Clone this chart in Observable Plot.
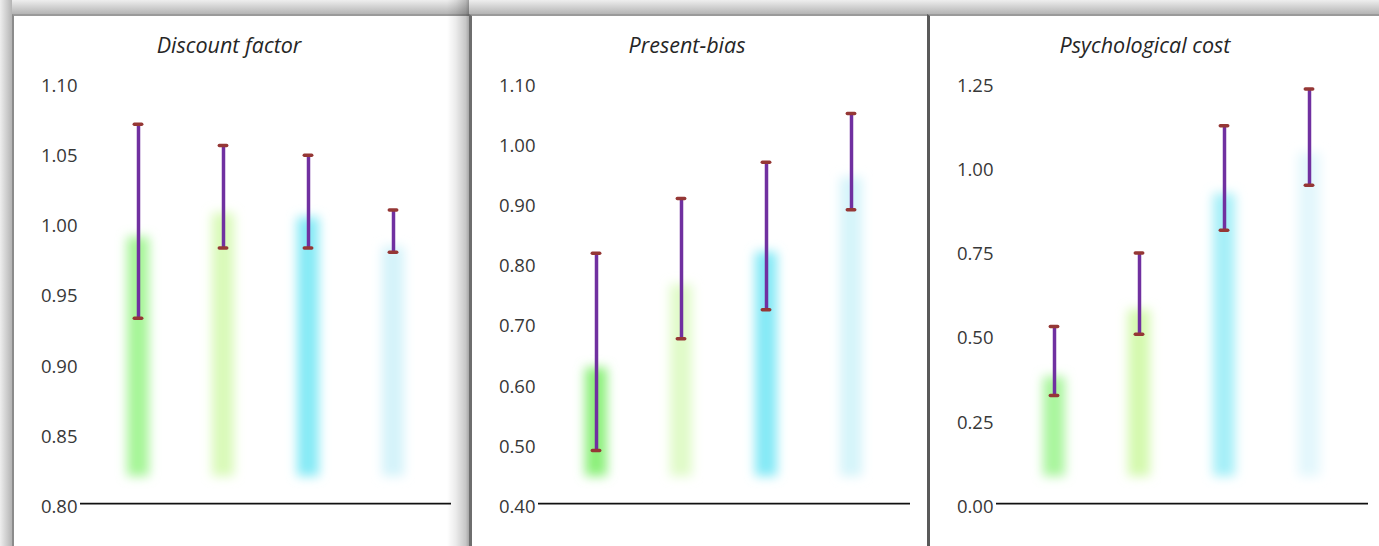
<!DOCTYPE html>
<html>
<head>
<meta charset="utf-8">
<script src="https://cdn.jsdelivr.net/npm/d3@7"></script>
<script src="https://cdn.jsdelivr.net/npm/@observablehq/plot@0.6"></script>
<style>
  html, body { margin: 0; padding: 0; background: #ffffff; }
  #page { position: relative; width: 1379px; height: 546px; overflow: hidden; background: #ffffff; }
  .strip { position: absolute; }
  .panel { position: absolute; top: 14px; height: 532px; background: #ffffff; box-sizing: border-box; border-top: 2px solid #9a9a9a; }
  .title { position: absolute; left: 0; top: 16px; line-height: 26px; width: 430px; text-align: center;
           font-family: "Open Sans", sans-serif; font-style: italic; font-weight: 400; font-size: 21.5px; color: #262626; }
  .panel svg { display: block; }
</style>
</head>
<body>
<div id="page">
  <div class="strip" style="left:0;top:0;width:1379px;height:14px;background:linear-gradient(to bottom,#eeeeee,#b4b4b4);"></div>
  <div class="strip" style="left:0;top:0;width:12px;height:546px;background:linear-gradient(to right,#eeeeee,#b4b4b4);"></div>
</div>
<script>
const groups = ["A", "B", "C", "D"];
const titles = ["Discount factor", "Present-bias", "Psychological cost"];

const discountMean = [1.001, 1.018, 1.015, 0.994];
const discountLow  = [0.932, 0.982, 0.982, 0.979];
const discountHigh = [1.070, 1.055, 1.048, 1.009];
const discountTicks = [0.80, 0.85, 0.90, 0.95, 1.00, 1.05, 1.10];

const presentMean = [0.652, 0.790, 0.844, 0.968];
const presentLow  = [0.488, 0.674, 0.722, 0.888];
const presentHigh = [0.816, 0.907, 0.967, 1.048];
const presentTicks = [0.40, 0.50, 0.60, 0.70, 0.80, 0.90, 1.00, 1.10];

const costMean = [0.423, 0.622, 0.966, 1.087];
const costLow  = [0.321, 0.502, 0.811, 0.944];
const costHigh = [0.525, 0.743, 1.121, 1.230];
const costTicks = [0.00, 0.25, 0.50, 0.75, 1.00, 1.25];

const discountColors = ["#a6f597", "#d9fab8", "#86eaf6", "#d4f3fa"];
const presentColors  = ["#8cf07a", "#e0fbc8", "#84e9f6", "#d5f4fa"];
const costColors     = ["#a9f59c", "#d4f9ae", "#a5eff8", "#e3f7fc"];

const panels = [
  {title: titles[0], mean: discountMean, low: discountLow, high: discountHigh, ticks: discountTicks, colors: discountColors,
   left: 12, border: 2, borderColor: "#8c8c8c", width: 458, mL: 66, mR: 19},
  {title: titles[1], mean: presentMean, low: presentLow, high: presentHigh, ticks: presentTicks, colors: presentColors,
   left: 469, border: 3, borderColor: "#6e6e6e", width: 459, mL: 66, mR: 18},
  {title: titles[2], mean: costMean, low: costLow, high: costHigh, ticks: costTicks, colors: costColors,
   left: 927, border: 3, borderColor: "#5a5a5a", width: 452, mL: 66, mR: 11}
];

const page = document.getElementById("page");

panels.forEach((p, i) => {
  if (i === 1) {
    const sh = document.createElement("div");
    sh.className = "strip";
    sh.style.cssText = "left:447px;top:0;width:22px;height:546px;z-index:" + (i * 2) + ";background:linear-gradient(to right,rgba(0,0,0,0),rgba(0,0,0,0.08) 40%,rgba(0,0,0,0.22) 85%,rgba(0,0,0,0.35));";
    page.appendChild(sh);
  }
  const div = document.createElement("div");
  div.className = "panel";
  div.style.left = p.left + "px";
  div.style.width = p.width + "px";
  div.style.borderLeft = p.border + "px solid " + p.borderColor;
  div.style.zIndex = i * 2 + 1;

  const data = groups.map((g, k) => ({g, mean: p.mean[k], lo: p.low[k], hi: p.high[k]}));
  const yMin = p.ticks[0], yMax = p.ticks[p.ticks.length - 1];
  const innerW = p.width - p.border;

  const svg = Plot.plot({
    width: innerW,
    height: 530,
    marginLeft: p.mL,
    marginRight: p.mR,
    marginTop: 65.7,
    marginBottom: 42.9,
    style: {fontFamily: "'Open Sans', sans-serif", fontSize: "18.5px", fontWeight: 400, color: "#383838", background: "transparent"},
    x: {domain: groups, axis: null, paddingInner: 0.74, paddingOuter: 0.547},
    y: {domain: [yMin, yMax], ticks: p.ticks, tickFormat: d3.format(".2f"), tickSize: 0, tickPadding: 3, label: null},
    color: {domain: groups, range: p.colors},
    marks: [
      Plot.barY(data, {x: "g", y1: yMin, y2: "mean", fill: "g", insetTop: 16, insetBottom: 27}),
      Plot.ruleY([yMin], {stroke: "#111111", strokeWidth: 1.75}),
      Plot.ruleX(data, {x: "g", y1: "lo", y2: "hi", stroke: "#7030a0", strokeWidth: 3.5}),
      Plot.tickY(data, {x: "g", y: "lo", stroke: "#953735", strokeWidth: 3.5, inset: 7.3, strokeLinecap: "round"}),
      Plot.tickY(data, {x: "g", y: "hi", stroke: "#953735", strokeWidth: 3.5, inset: 7.3, strokeLinecap: "round"})
    ]
  });

  const s = d3.select(svg);
  const fid = "soft" + i;
  const f = s.insert("defs", ":first-child").append("filter").attr("id", fid)
    .attr("x", "-50%").attr("y", "-30%").attr("width", "200%").attr("height", "160%");
  f.append("feGaussianBlur").attr("stdDeviation", 5.5);
  s.select('g[aria-label="bar"]').attr("filter", `url(#${fid})`);
  s.selectAll('g[aria-label^="y-axis"] text').each(function() {
    if (this.hasAttribute("dy")) this.setAttribute("y", 3.5);
    else this.setAttribute("dy", 3.5);
  });

  div.appendChild(svg);
  const t = document.createElement("div");
  t.className = "title";
  t.textContent = p.title;
  div.appendChild(t);
  page.appendChild(div);
});
</script>
</body>
</html>
